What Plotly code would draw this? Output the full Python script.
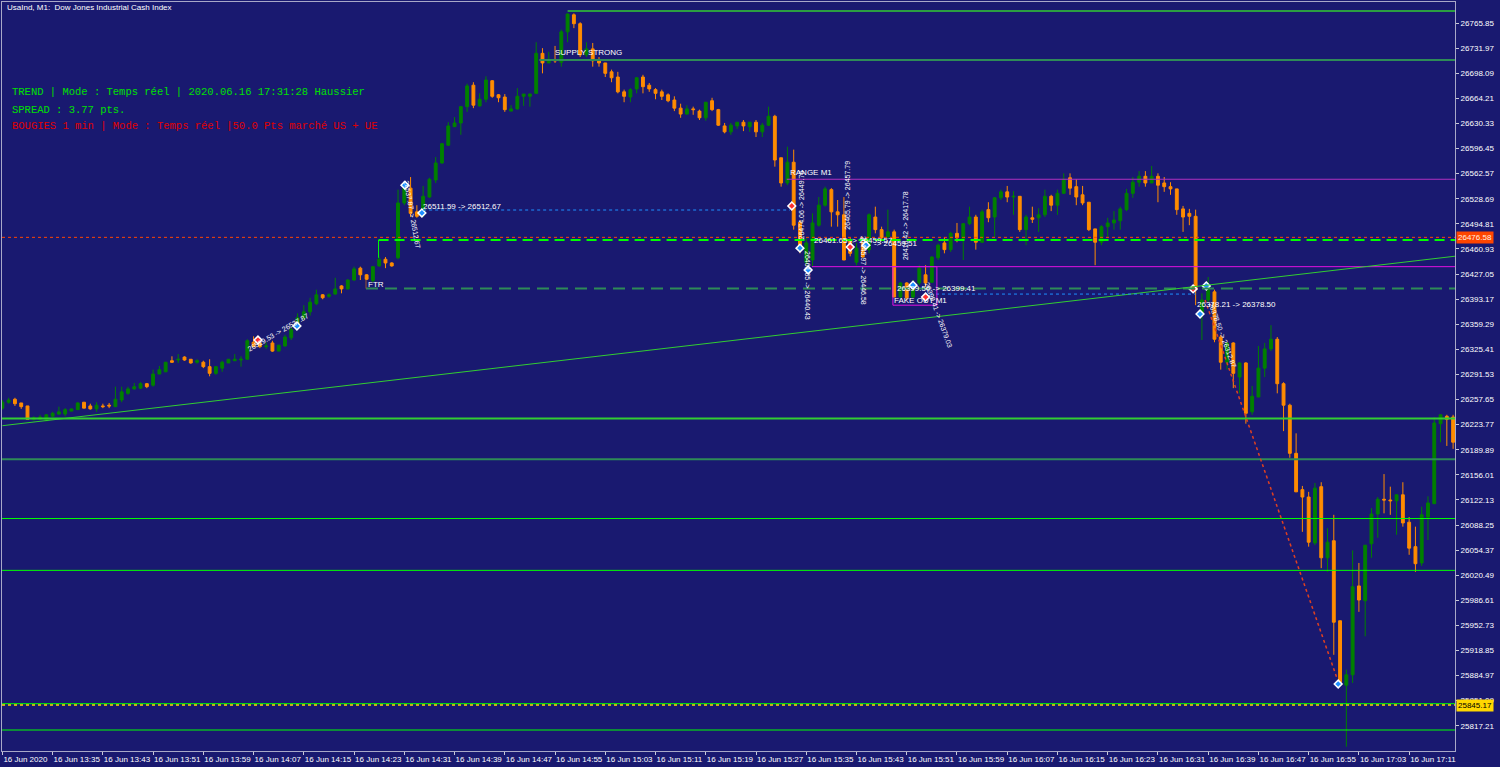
import plotly.graph_objects as go

# UsaInd M1 candles, 16 Jun 2020, one bar per minute starting 13:27
open_ = [
    26246, 26254, 26258, 26253, 26249, 26231, 26231, 26229, 26235, 26238, 26238, 26242,
    26244, 26254, 26249, 26245, 26249, 26250, 26248, 26257, 26266, 26272, 26273, 26279,
    26277, 26292, 26295, 26310, 26311, 26315, 26312, 26308, 26308, 26302, 26293, 26300,
    26307, 26310, 26311, 26312, 26335, 26334, 26329, 26334, 26323, 26330, 26341, 26354,
    26368, 26376, 26387, 26399, 26397, 26400, 26411, 26407, 26419, 26435, 26426, 26418,
    26438, 26447, 26442, 26449, 26523, 26543, 26511, 26507, 26531, 26554, 26577, 26601,
    26626, 26631, 26653, 26682, 26654, 26663, 26688, 26669, 26666, 26647, 26650, 26667,
    26667, 26671, 26725, 26712, 26716, 26713, 26754, 26777, 26765, 26723, 26731, 26716,
    26712, 26700, 26693, 26673, 26666, 26677, 26693, 26682, 26676, 26673, 26669, 26662,
    26651, 26643, 26650, 26647, 26638, 26661, 26649, 26627, 26619, 26627, 26632, 26626,
    26632, 26619, 26628, 26640, 26584, 26550, 26578, 26497, 26443, 26446, 26493, 26520,
    26541, 26511, 26507, 26473, 26443, 26469, 26460, 26504, 26487, 26477, 26484, 26396,
    26415, 26396, 26415, 26426, 26416, 26449, 26469, 26460, 26482, 26474, 26495, 26504,
    26470, 26514, 26504, 26530, 26538, 26531, 26532, 26487, 26503, 26503, 26507, 26532,
    26520, 26536, 26557, 26545, 26534, 26524, 26488, 26470, 26491, 26496, 26499, 26514,
    26536, 26551, 26559, 26550, 26559, 26550, 26545, 26542, 26515, 26509, 26505, 26374,
    26392, 26403, 26342, 26308, 26334, 26288, 26307, 26241, 26261, 26300, 26326, 26339,
    26279, 26250, 26185, 26136, 26126, 26064, 26140, 26044, 26067, 25959, 25872, 25886,
    26006, 25986, 26063, 26103, 26123, 26122, 26121, 26129, 26092, 26059, 26037, 26099,
    26117, 26225, 26235, 26234,
]
high = [
    26257, 26260, 26260, 26253, 26249, 26235, 26237, 26238, 26241, 26248, 26246, 26245,
    26254, 26254, 26252, 26254, 26252, 26253, 26275, 26275, 26275, 26280, 26281, 26280,
    26298, 26303, 26308, 26316, 26319, 26316, 26312, 26312, 26310, 26312, 26303, 26310,
    26312, 26319, 26316, 26339, 26343, 26335, 26335, 26337, 26331, 26345, 26356, 26374,
    26385, 26395, 26406, 26400, 26401, 26422, 26412, 26420, 26437, 26437, 26427, 26438,
    26450, 26450, 26443, 26541, 26550, 26558, 26520, 26546, 26557, 26585, 26604, 26632,
    26639, 26654, 26684, 26686, 26671, 26694, 26689, 26670, 26670, 26655, 26678, 26670,
    26671, 26740, 26732, 26727, 26735, 26757, 26779, 26779, 26767, 26740, 26739, 26720,
    26712, 26703, 26700, 26676, 26678, 26693, 26696, 26685, 26678, 26676, 26671, 26667,
    26657, 26655, 26653, 26649, 26659, 26665, 26650, 26631, 26631, 26632, 26635, 26632,
    26635, 26631, 26653, 26642, 26584, 26599, 26595, 26500, 26476, 26509, 26531, 26545,
    26543, 26527, 26531, 26476, 26469, 26473, 26509, 26518, 26491, 26514, 26487, 26416,
    26416, 26419, 26439, 26439, 26451, 26468, 26477, 26484, 26496, 26496, 26518, 26507,
    26514, 26524, 26531, 26541, 26546, 26539, 26532, 26507, 26518, 26516, 26541, 26534,
    26541, 26563, 26563, 26555, 26546, 26524, 26488, 26493, 26503, 26512, 26518, 26542,
    26558, 26566, 26566, 26573, 26563, 26558, 26551, 26542, 26519, 26515, 26514, 26401,
    26423, 26406, 26345, 26335, 26335, 26308, 26308, 26276, 26330, 26334, 26358, 26342,
    26281, 26252, 26212, 26141, 26133, 26145, 26146, 26084, 26102, 25959, 25893, 26054,
    26037, 26061, 26111, 26126, 26157, 26140, 26129, 26146, 26099, 26086, 26113, 26127,
    26234, 26237, 26237, 26237,
]
low = [
    26244, 26252, 26249, 26245, 26231, 26229, 26230, 26229, 26234, 26237, 26235, 26242,
    26244, 26246, 26244, 26241, 26246, 26246, 26248, 26254, 26264, 26271, 26272, 26273,
    26275, 26292, 26295, 26307, 26307, 26310, 26306, 26306, 26300, 26289, 26291, 26295,
    26307, 26310, 26302, 26312, 26329, 26327, 26326, 26322, 26323, 26329, 26338, 26352,
    26365, 26371, 26385, 26393, 26395, 26399, 26401, 26406, 26418, 26419, 26419, 26416,
    26437, 26435, 26437, 26447, 26520, 26504, 26503, 26504, 26530, 26550, 26576, 26600,
    26626, 26615, 26646, 26651, 26653, 26659, 26665, 26659, 26646, 26647, 26649, 26654,
    26653, 26671, 26698, 26712, 26712, 26707, 26740, 26759, 26720, 26720, 26707, 26707,
    26693, 26686, 26671, 26659, 26659, 26671, 26671, 26673, 26663, 26662, 26659, 26647,
    26638, 26642, 26642, 26635, 26634, 26647, 26627, 26617, 26615, 26623, 26620, 26619,
    26612, 26612, 26627, 26572, 26545, 26547, 26487, 26455, 26438, 26437, 26491, 26518,
    26491, 26491, 26446, 26451, 26439, 26449, 26455, 26482, 26473, 26477, 26396, 26395,
    26392, 26395, 26412, 26410, 26415, 26446, 26455, 26457, 26470, 26446, 26493, 26460,
    26469, 26497, 26477, 26527, 26524, 26507, 26484, 26466, 26496, 26484, 26504, 26512,
    26507, 26535, 26534, 26520, 26520, 26485, 26439, 26466, 26476, 26487, 26487, 26512,
    26530, 26545, 26545, 26550, 26524, 26538, 26534, 26507, 26484, 26493, 26385, 26338,
    26389, 26335, 26298, 26298, 26273, 26266, 26225, 26237, 26261, 26288, 26323, 26266,
    26215, 26179, 26133, 26079, 26059, 26061, 26030, 26025, 25913, 25874, 25789, 25875,
    25971, 25938, 26044, 26071, 26104, 26102, 26075, 26086, 26048, 26025, 26033, 26068,
    26117, 26200, 26195, 26191,
]
close = [
    26254, 26257, 26252, 26248, 26231, 26233, 26234, 26237, 26239, 26241, 26244, 26245,
    26253, 26246, 26245, 26250, 26248, 26249, 26258, 26268, 26272, 26275, 26279, 26275,
    26292, 26298, 26308, 26308, 26312, 26311, 26307, 26310, 26302, 26293, 26302, 26308,
    26312, 26312, 26312, 26337, 26329, 26329, 26330, 26323, 26331, 26342, 26352, 26368,
    26376, 26389, 26399, 26395, 26399, 26407, 26407, 26419, 26434, 26426, 26420, 26437,
    26447, 26442, 26438, 26523, 26543, 26509, 26505, 26532, 26555, 26577, 26603, 26627,
    26631, 26653, 26681, 26655, 26663, 26689, 26667, 26665, 26649, 26650, 26667, 26670,
    26670, 26725, 26712, 26717, 26715, 26754, 26778, 26765, 26723, 26731, 26715, 26712,
    26698, 26692, 26673, 26667, 26676, 26692, 26680, 26677, 26671, 26667, 26661, 26651,
    26643, 26650, 26649, 26638, 26659, 26649, 26628, 26619, 26628, 26632, 26627, 26632,
    26619, 26628, 26640, 26581, 26550, 26578, 26493, 26460, 26469, 26496, 26520, 26542,
    26511, 26507, 26446, 26455, 26462, 26450, 26507, 26487, 26476, 26484, 26396, 26415,
    26395, 26415, 26435, 26415, 26450, 26466, 26460, 26482, 26476, 26495, 26504, 26470,
    26511, 26503, 26530, 26538, 26531, 26532, 26487, 26504, 26501, 26507, 26532, 26520,
    26536, 26555, 26543, 26531, 26523, 26487, 26470, 26491, 26496, 26500, 26515, 26536,
    26551, 26559, 26550, 26559, 26547, 26545, 26542, 26514, 26504, 26505, 26406, 26392,
    26412, 26339, 26308, 26334, 26293, 26307, 26239, 26262, 26300, 26326, 26339, 26279,
    26250, 26185, 26133, 26126, 26065, 26138, 26044, 26065, 25957, 25876, 25886, 26005,
    25987, 26061, 26103, 26123, 26122, 26121, 26129, 26091, 26057, 26036, 26102, 26118,
    26226, 26237, 26231, 26200,
]

tick_labels = [
    "16 Jun 2020", "16 Jun 13:35", "16 Jun 13:43", "16 Jun 13:51", "16 Jun 13:59",
    "16 Jun 14:07", "16 Jun 14:15", "16 Jun 14:23", "16 Jun 14:31", "16 Jun 14:39",
    "16 Jun 14:47", "16 Jun 14:55", "16 Jun 15:03", "16 Jun 15:11", "16 Jun 15:19",
    "16 Jun 15:27", "16 Jun 15:35", "16 Jun 15:43", "16 Jun 15:51", "16 Jun 15:59",
    "16 Jun 16:07", "16 Jun 16:15", "16 Jun 16:23", "16 Jun 16:31", "16 Jun 16:39",
    "16 Jun 16:47", "16 Jun 16:55", "16 Jun 17:03", "16 Jun 17:11",
]
price_ticks = [
    26765.85, 26731.97, 26698.09, 26664.21, 26630.33, 26596.45, 26562.57, 26528.69,
    26494.81, 26460.93, 26427.05, 26393.17, 26359.29, 26325.41, 26291.53, 26257.65,
    26223.77, 26189.89, 26156.01, 26122.13, 26088.25, 26054.37, 26020.49, 25986.61,
    25952.73, 25918.85, 25884.97, 25851.09, 25817.21,
]

last_price = 26476.58
low_mark = 25845.17

# arrows / signal diamonds drawn by the indicator
sig_x = [40.7, 46.9, 64.1, 66.8, 125.7, 127.0, 128.3, 135.0, 137.5, 145.0, 147.0, 189.6, 190.7, 191.7, 212.7]
sig_y = [26338, 26357, 26547, 26509.5, 26519, 26462, 26432.5, 26463.5, 26466, 26412, 26396, 26407, 26373, 26411, 25873.6]
sig_up = [0, 1, 1, 1, 0, 1, 1, 0, 1, 1, 0, 0, 1, 1, 1]

BG = "#191970"
MONO = "Liberation Mono, Courier New, monospace"
NARROW = "Liberation Sans Narrow, Liberation Sans, Arial, sans-serif"

bars = list(range(len(close)))
x_end = 231.3

fig = go.Figure()
fig.add_trace(go.Candlestick(
    x=bars, open=open_, high=high, low=low, close=close,
    increasing=dict(line=dict(color="#008000", width=1), fillcolor="#008000"),
    decreasing=dict(line=dict(color="#FF8C00", width=1), fillcolor="#FF8C00"),
    whiskerwidth=0, hoverinfo="skip", showlegend=False,
))

fig.add_trace(go.Scatter(
    x=sig_x, y=sig_y, mode="markers", hoverinfo="skip", showlegend=False,
    marker=dict(symbol="diamond", size=6,
                color=["#1E90FF" if u else "#FF3030" for u in sig_up],
                line=dict(color="white", width=1.5)),
))

shapes = []


def hline(y, color, width=1, dash="solid", x0=None):
    if x0 is None:
        shapes.append(dict(type="line", xref="paper", yref="y", x0=0, x1=1, y0=y, y1=y,
                           layer="above", line=dict(color=color, width=width, dash=dash)))
    else:
        shapes.append(dict(type="line", xref="x", yref="y", x0=x0, x1=x_end, y0=y, y1=y,
                           layer="above", line=dict(color=color, width=width, dash=dash)))


def seg(x0, y0, x1, y1, color, width=1, dash="solid"):
    shapes.append(dict(type="line", xref="x", yref="y", x0=x0, x1=x1, y0=y0, y1=y1,
                       line=dict(color=color, width=width, dash=dash)))


hline(26782, "#32CD32", 1.5, x0=90)
hline(26716, "#2E8B57", 2, x0=85.5)
hline(26555, "#B030C0", 1, x0=124.9)
hline(26437, "#E010E0", 1, x0=128.9)
hline(26473, "#00FF00", 2, "10px,6px", x0=59.9)
hline(26407.5, "#2E8B57", 2, "12px,7px", x0=57.9)
hline(last_price, "#FF4500", 1, "dot")
hline(26232, "#32CD32", 2)
hline(26177, "#2E8B57", 2)
hline(26097, "#00FF00", 1)
hline(26027, "#00FF00", 1)
hline(25847, "#00FF00", 1)
hline(low_mark, "#FFD700", 1.5, "dot")
hline(25811.5, "#00FF00", 1)

# trend line and helper segments
seg(0, 26222.3, x_end, 26451.1, "#32CD32", 1)
seg(59.9, 26473, 59.9, 26449, "#00FF00", 1)
seg(57.9, 26407.5, 57.9, 26419, "#A0522D", 1)
seg(67, 26513.5, 125.4, 26513.5, "#1E90FF", 1, "dot")
seg(147.7, 26400, 190, 26400, "#1E90FF", 1, "dot")
seg(191.5, 26392, 212.5, 25881.7, "#E04020", 1.5, "dot")
shapes.append(dict(type="rect", xref="x", yref="y", x0=141.8, x1=148.8, y0=26385, y1=26437,
                   line=dict(color="#E010E0", width=1)))

ann = []


def label(x, y, text, angle=0, size=8, anchor="left"):
    ann.append(dict(x=x, y=y, xref="x", yref="y", text=text, showarrow=False,
                    xanchor=anchor if angle == 0 else "center", yanchor="middle",
                    textangle=angle, font=dict(family=NARROW, size=size, color="white")))


label(66.7, 26518.9, "26511.59 -> 26512.67")
label(87.7, 26725.5, "SUPPLY STRONG")
label(125.1, 26563.5, "RANGE M1")
label(57.9, 26413.6, "FTR")
label(141.7, 26391, "FAKE OUT M1")
label(142.1, 26407, "26399.50 -> 26399.41")
label(189.9, 26386.6, "26378.21 -> 26378.50")
label(128.9, 26473, "26461.65 -> 26459.57")
label(138.5, 26468, "-> 26459.51")
label(43.9, 26347.5, "26529.53 -> 26537.87", angle=-30, size=7)
label(65.2, 26506.8, "26537.87 -> 26512.67", angle=80, size=7)
label(127.2, 26520, "26474.06 -> 26449.76", angle=-90, size=7)
label(128.3, 26412, "26461.65 -> 26440.43", angle=90, size=7)
label(134.6, 26533.8, "26465.79 -> 26457.79", angle=-90, size=7)
label(137.2, 26432.5, "26445.97 -> 26446.58", angle=90, size=7)
label(143.7, 26493, "26416.42 -> 26417.78", angle=-90, size=7)
label(149.0, 26372, "26399.41 -> 26379.03", angle=70, size=7)
label(194.2, 26344.8, "26378.50 -> 26312.87", angle=70, size=7)

# chart header and indicator panel text
ann.append(dict(x=0.002, y=0.9933, xref="paper", yref="paper", showarrow=False,
                xanchor="left", yanchor="middle", text="UsaInd, M1:  Dow Jones Industrial Cash Index",
                font=dict(family=NARROW, size=8, color="white")))
panel = [
    (0.8794, "TREND | Mode : Temps réel | 2020.06.16 17:31:28 Haussier", "#00E000"),
    (0.8562, "SPREAD : 3.77 pts.", "#00E000"),
    (0.8348, "BOUGIES 1 min | Mode : Temps réel |50.0 Pts marché US + UE", "#E00000"),
]
for py, txt, col in panel:
    ann.append(dict(x=0.0055, y=py, xref="paper", yref="paper", showarrow=False,
                    xanchor="left", yanchor="middle", text=txt,
                    font=dict(family=MONO, size=10.5, color=col)))

# price tags on the right scale
ann.append(dict(x=1.0, y=last_price, xref="paper", yref="y", xanchor="left", yanchor="middle",
                xshift=1, showarrow=False, text=f"{last_price:.2f}", bgcolor="#FF4500",
                borderpad=1, font=dict(family=NARROW, size=8, color="#FFF0E0")))
ann.append(dict(x=1.0, y=low_mark, xref="paper", yref="y", xanchor="left", yanchor="middle",
                xshift=1, showarrow=False, text=f"{low_mark:.2f}", bgcolor="#FFD700",
                borderpad=1, font=dict(family=NARROW, size=8, color="black")))

fig.update_layout(
    width=1500, height=767,
    margin=dict(l=2, r=45, t=2, b=16, autoexpand=False),
    paper_bgcolor=BG, plot_bgcolor=BG,
    shapes=shapes, annotations=ann,
    boxgap=0.35,
    showlegend=False,
    xaxis=dict(
        range=[-0.06, x_end], rangeslider=dict(visible=False),
        tickvals=list(range(0, 8 * len(tick_labels), 8)), ticktext=tick_labels,
        ticks="outside", ticklen=3, tickcolor="#C8C8D8", tickangle=0,
        ticklabelposition="outside right", automargin=False,
        tickfont=dict(family=NARROW, size=8, color="white"),
        showgrid=False, zeroline=False,
        showline=True, linecolor="#A8A8C8", linewidth=1, mirror=True,
    ),
    yaxis=dict(
        side="right", range=[25783.15, 26794.3], automargin=False,
        tickvals=price_ticks, ticktext=[f"{v:.2f}" for v in price_ticks],
        ticks="outside", ticklen=3, tickcolor="#C8C8D8",
        tickfont=dict(family=NARROW, size=8, color="white"),
        showgrid=False, zeroline=False,
        showline=True, linecolor="#A8A8C8", linewidth=1, mirror=True,
    ),
)

# page body has an 8px default margin; drop it so the chart sits at the window corner
fig.write_html("out.html", config={"displayModeBar": False},
               post_script="document.body.style.margin='0px';document.body.style.overflow='hidden';")
